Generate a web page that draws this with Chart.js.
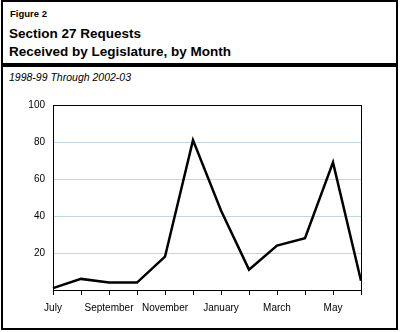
<!DOCTYPE html>
<html>
<head>
<meta charset="utf-8">
<script src="https://cdn.jsdelivr.net/npm/chart.js@4"></script>
<style>
  html, body { margin: 0; padding: 0; background: #fff; }
  body { width: 400px; height: 332px; position: relative; overflow: hidden; font-family: "Liberation Sans", Arial, sans-serif; }
  .frame { position: absolute; left: 1px; top: 0; width: 397px; height: 330px; box-sizing: border-box; border: 2px solid #000; }
  .rule { position: absolute; left: 1px; top: 63px; width: 397px; height: 4px; background: #000; }
  .fig { position: absolute; left: 10px; top: 8px; font-size: 9.5px; font-weight: bold; }
  .title { position: absolute; left: 9px; top: 25px; font-size: 13.5px; font-weight: bold; line-height: 18px; }
  .sub { position: absolute; left: 9px; top: 71px; font-size: 10.5px; font-style: italic; }
  canvas { position: absolute; left: 0; top: 0; }
</style>
</head>
<body>
<div class="frame"></div>
<div class="rule"></div>
<div class="fig">Figure 2</div>
<div class="title">Section 27 Requests<br>Received by Legislature, by Month</div>
<div class="sub">1998-99 Through 2002-03</div>
<canvas id="lineChart" width="400" height="332"></canvas>
<script>
const meses = ["July", "August", "September", "October", "November", "December", "January", "February", "March", "April", "May", "June"];
const pedidos = [1, 6, 4, 4, 18, 81, 43, 11, 24, 28, 69, 5];
const marcasY = [20, 40, 60, 80, 100];

// black box round the plot plus the small month ticks under it
const frameBox = {
    id: 'frameBox',
    afterDraw(chart) {
        const { ctx, chartArea: a } = chart;
        const x = chart.scales.x;
        ctx.save();
        ctx.strokeStyle = '#000';
        ctx.lineWidth = 1;
        ctx.strokeRect(Math.round(a.left) + 0.5, Math.round(a.top) + 0.5, Math.round(a.right - a.left), Math.round(a.bottom - a.top));
        ctx.beginPath();
        meses.forEach((m, i) => {
            const px = Math.round(x.getPixelForValue(i)) + 0.5;
            ctx.moveTo(px, a.bottom);
            ctx.lineTo(px, a.bottom + 5);
        });
        ctx.stroke();
        ctx.restore();
    }
};

const ctxLine = document.getElementById('lineChart').getContext('2d');

const lineChart = new Chart(ctxLine, {
    type: 'line',
    data: {
        labels: meses,
        datasets: [{
            data: pedidos,
            fill: false,
            borderColor: '#000',
            borderWidth: 2.5,
            pointRadius: 0,
            tension: 0
        }]
    },
    options: {
        responsive: false,
        animation: false,
        layout: { padding: { left: 0, top: 105, right: 39, bottom: 0 } },
        plugins: { legend: { display: false }, tooltip: { enabled: false } },
        scales: {
            y: {
                min: 0,
                max: 100,
                afterFit: (s) => { s.width = 53; },
                afterBuildTicks: (s) => { s.ticks = [0].concat(marcasY).map(v => ({ value: v })); },
                ticks: {
                    color: '#000',
                    font: { family: 'Liberation Sans', size: 10 },
                    padding: 8,
                    callback: (v) => v === 0 ? '' : v
                },
                grid: {
                    drawTicks: false,
                    color: (c) => (c.tick && c.tick.value > 0 && c.tick.value < 100) ? '#c3d5df' : 'rgba(0,0,0,0)'
                },
                border: { display: false }
            },
            x: {
                offset: false,
                afterFit: (s) => { s.height = 42; },
                ticks: {
                    color: '#000',
                    autoSkip: false,
                    maxRotation: 0,
                    font: { family: 'Liberation Sans', size: 10 },
                    padding: 4,
                    callback: (v, i) => i % 2 === 0 ? meses[i] : ''
                },
                grid: { display: false },
                border: { display: false }
            }
        }
    },
    plugins: [frameBox]
});
</script>
</body>
</html>
